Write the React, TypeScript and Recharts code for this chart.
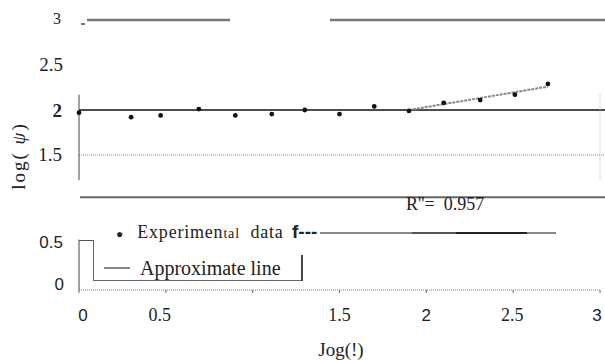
import React from "react";
import {
  ComposedChart,
  Scatter,
  Line,
  XAxis,
  YAxis,
  ReferenceLine,
} from "recharts";

// log(!) of each measurement and its log(psi)
const logX = [0, 0.3, 0.47, 0.69, 0.9, 1.11, 1.3, 1.5, 1.7, 1.9, 2.1, 2.31, 2.51, 2.7];
const logPsi = [1.97, 1.92, 1.94, 2.01, 1.94, 1.955, 2.0, 1.955, 2.04, 1.99, 2.08, 2.11, 2.17, 2.29];

// fitted rising part of the approximate line
const approxX = [1.9, 2.7];
const approxY = [2.0, 2.26];

const xTicks = [0, 0.5, 1, 1.5, 2, 2.5, 3];
const xTickLabels = ["0", "0.5", "", "1.5", "2", "2.5", "3"];
const yTicks = [0, 0.5, 1.5, 2, 2.5, 3];
const yTickLabels = ["0", "0.5", "1.5", "2", "2.5", "3"];

const rSquared = "0.957";

const points = logX.map((x, i) => ({ x, y: logPsi[i] }));
const approx = approxX.map((x, i) => ({ x, approx: approxY[i] }));

const SERIF = "'Liberation Serif', 'Times New Roman', serif";
const SANS = "'Liberation Sans', Arial, sans-serif";

// the scan mixes two typefaces in the tick labels
const xTickStyle: Record<string, { font: string; size: number; dx: number }> = {
  "0": { font: SANS, size: 17, dx: 4 },
  "0.5": { font: SERIF, size: 18, dx: -6 },
  "1.5": { font: SERIF, size: 18, dx: 0 },
  "2": { font: SANS, size: 17, dx: 0 },
  "2.5": { font: SERIF, size: 18, dx: -1 },
  "3": { font: SANS, size: 17, dx: -3 },
};

const yTickStyle: Record<string, { font: string; size: number; dy: number; x: number; weight?: number }> = {
  "0": { font: SANS, size: 17, dy: -6, x: 64 },
  "0.5": { font: SANS, size: 17, dy: -3, x: 63 },
  "1.5": { font: SERIF, size: 19, dy: -1, x: 62 },
  "2": { font: SERIF, size: 19, dy: 0, x: 62, weight: 700 },
  "2.5": { font: SERIF, size: 19, dy: -1, x: 63 },
  "3": { font: SERIF, size: 16, dy: -2, x: 61 },
};

const XTick = (props: any) => {
  const { x, y, payload } = props;
  const label = xTickLabels[xTicks.indexOf(payload.value)];
  if (!label) return null;
  const s = xTickStyle[label];
  return (
    <text x={x + s.dx} y={y + 20} dy="0.35em" textAnchor="middle" fontFamily={s.font} fontSize={s.size} fill="#222">
      {label}
    </text>
  );
};

const YTick = (props: any) => {
  const { y, payload } = props;
  const label = yTickLabels[yTicks.indexOf(payload.value)];
  const s = yTickStyle[label];
  return (
    <g>
      <text x={s.x} y={y + s.dy} dy="0.35em" textAnchor="end" fontFamily={s.font} fontSize={s.size} fontWeight={s.weight} fill="#222">
        {label}
      </text>
      {label === "3" && <line x1={81} x2={85} y1={y + 4} y2={y + 4} stroke="#444" strokeWidth={1.5} />}
    </g>
  );
};

const Dot = (props: any) => <circle cx={props.cx} cy={props.cy} r={2.4} fill="#111" />;

export default function App() {
  return (
    <div style={{ position: "absolute", left: 0, top: 0, width: 605, height: 360, background: "#fff" }}>
      <ComposedChart width={605} height={360} margin={{ top: 20, right: 5, bottom: 0, left: 0 }}>
        <XAxis
          dataKey="x"
          type="number"
          domain={[0, 3]}
          ticks={xTicks}
          height={70}
          axisLine={{ stroke: "#777", strokeDasharray: "1 1" }}
          tickLine={{ stroke: "#666" }}
          tickSize={3}
          tick={<XTick />}
          label={{
            content: () => (
              <text x={341} y={349} dy="0.35em" textAnchor="middle" fontFamily={SERIF} fontSize={19} fill="#222">
                Jog(!)
              </text>
            ),
          }}
        />
        <YAxis
          type="number"
          domain={[0, 3]}
          ticks={yTicks}
          width={79}
          axisLine={false}
          tickLine={false}
          tick={<YTick />}
          label={{
            content: () => (
              <text
                x={18}
                y={156}
                dy="0.35em"
                textAnchor="middle"
                transform="rotate(-90 18 156)"
                fontFamily={SERIF}
                fontSize={19}
                letterSpacing={2}
                fill="#222"
              >
                log(<tspan fontStyle="italic"> ψ</tspan>)
              </text>
            ),
          }}
        />

        {/* lines at 3 */}
        <ReferenceLine segment={[{ x: 0.046, y: 3 }, { x: 0.87, y: 3 }]} stroke="#777" strokeWidth={2.5} ifOverflow="visible" />
        <ReferenceLine segment={[{ x: 1.445, y: 3 }, { x: 3.03, y: 3 }]} stroke="#777" strokeWidth={2.5} ifOverflow="visible" />
        {/* line at 2 */}
        <ReferenceLine segment={[{ x: 0, y: 2 }, { x: 3.03, y: 2 }]} stroke="#111" strokeWidth={1.5} ifOverflow="visible" />
        {/* dotted line at 1.5 */}
        <ReferenceLine segment={[{ x: 0, y: 1.5 }, { x: 3.03, y: 1.5 }]} stroke="#888" strokeDasharray="1 1" ifOverflow="visible" />
        {/* line at 1 */}
        <ReferenceLine segment={[{ x: 0.006, y: 1.03 }, { x: 3.03, y: 1.03 }]} stroke="#666" strokeWidth={2} ifOverflow="visible" />
        {/* left axis pieces */}
        <ReferenceLine segment={[{ x: 0, y: 2.17 }, { x: 0, y: 1.22 }]} stroke="#444" />
        <ReferenceLine segment={[{ x: 0, y: 0.56 }, { x: 0, y: 0 }]} stroke="#444" />
        <ReferenceLine segment={[{ x: 3, y: 2.17 }, { x: 3, y: 1.22 }]} stroke="#bbb" strokeDasharray="1 1" />

        <Line
          data={approx}
          dataKey="approx"
          stroke="#888"
          strokeWidth={2}
          strokeDasharray="3 1"
          dot={false}
          isAnimationActive={false}
        />
        <Scatter data={points} dataKey="y" shape={<Dot />} isAnimationActive={false} />
      </ComposedChart>

      {/* legend and fit text, as in the scan */}
      <div style={{ position: "absolute", left: 0, top: 0, width: 605, height: 360, pointerEvents: "none", fontFamily: SERIF, color: "#222" }}>
        <div style={{ position: "absolute", left: 406, top: 194, fontSize: 18, lineHeight: "20px", whiteSpace: "pre" }}>
          {`R''=  ${rSquared}`}
        </div>
        <div style={{ position: "absolute", left: 116, top: 221, fontSize: 18, lineHeight: "22px", whiteSpace: "pre", letterSpacing: 0.8 }}>
          <span style={{ fontSize: 12, marginRight: 14, letterSpacing: 0 }}>●</span>
          Experimen<span style={{ fontSize: 14 }}>tal</span>{"  "}data
        </div>
        <div style={{ position: "absolute", left: 292, top: 221, fontSize: 19, fontWeight: 700, lineHeight: "22px", fontFamily: SANS }}>
          f---
        </div>
        <div style={{ position: "absolute", left: 320, top: 232, width: 92, height: 2, background: "#888" }} />
        <div style={{ position: "absolute", left: 412, top: 232, width: 44, height: 2, background: "#555" }} />
        <div style={{ position: "absolute", left: 456, top: 232, width: 71, height: 2, background: "#222" }} />
        <div style={{ position: "absolute", left: 527, top: 232, width: 29, height: 2, background: "#888" }} />

        <div style={{ position: "absolute", left: 79, top: 240, width: 14, height: 1, background: "#555" }} />
        <div style={{ position: "absolute", left: 93, top: 240, width: 1, height: 41, background: "#666" }} />
        <div style={{ position: "absolute", left: 93, top: 280, width: 209, height: 1, background: "#666" }} />
        <div style={{ position: "absolute", left: 301, top: 255, width: 1.5, height: 26, background: "#444" }} />
        <div style={{ position: "absolute", left: 104, top: 267, width: 26, height: 2, background: "#888" }} />
        <div style={{ position: "absolute", left: 140, top: 256, fontSize: 20, lineHeight: "24px", whiteSpace: "nowrap" }}>
          Approximate line
        </div>
      </div>
    </div>
  );
}
